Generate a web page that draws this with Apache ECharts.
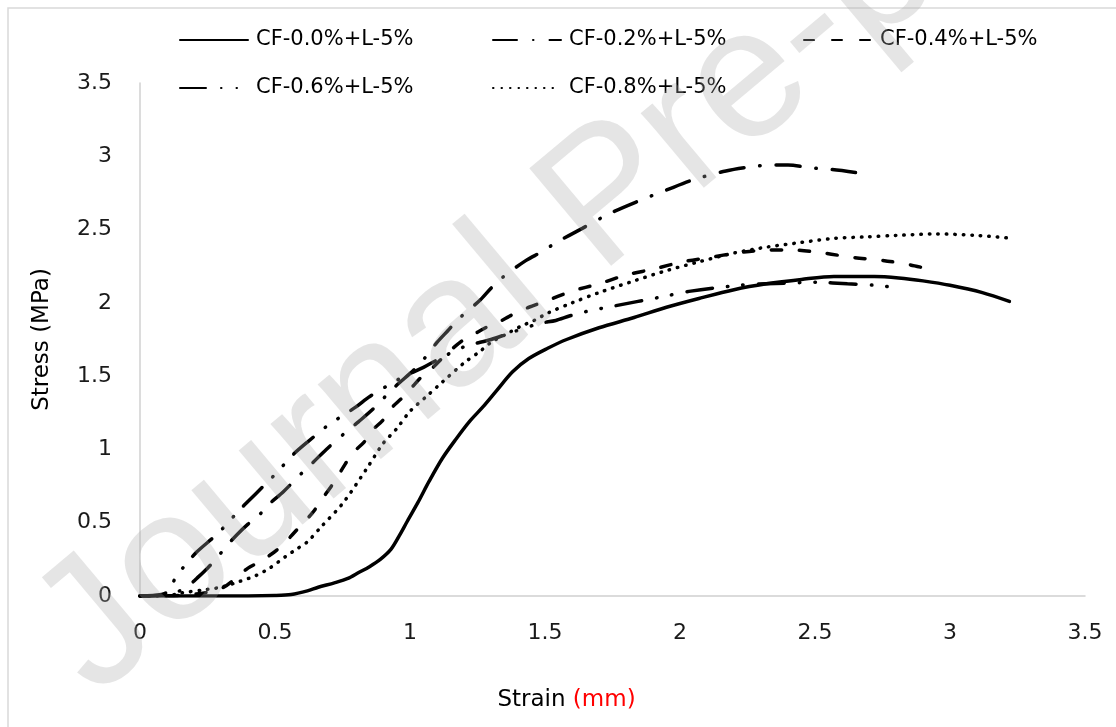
<!DOCTYPE html>
<html>
<head>
<meta charset="utf-8">
<script src="https://cdn.jsdelivr.net/npm/echarts@6/dist/echarts.min.js"></script>
<style>
html,body{margin:0;padding:0;background:#fff;}
#chart{width:1116px;height:727px;}
</style>
</head>
<body>
<div id="chart"></div>
<script>
// Series names
const seriesNames = ['CF-0.0%+L-5%', 'CF-0.2%+L-5%', 'CF-0.4%+L-5%', 'CF-0.6%+L-5%', 'CF-0.8%+L-5%'];

// [strain (mm), stress (MPa)] pairs
const cf00 = [[0,0],[0.2,0],[0.4,0],[0.5,0.003],[0.56,0.01],[0.62,0.035],[0.66,0.06],[0.72,0.09],[0.77,0.12],[0.81,0.16],[0.85,0.2],[0.89,0.25],[0.93,0.32],[0.96,0.41],[0.99,0.51],[1.03,0.64],[1.07,0.78],[1.12,0.94],[1.17,1.07],[1.22,1.19],[1.27,1.29],[1.32,1.40],[1.38,1.53],[1.44,1.62],[1.51,1.69],[1.58,1.75],[1.70,1.83],[1.83,1.90],[1.95,1.97],[2.07,2.03],[2.20,2.09],[2.32,2.13],[2.45,2.16],[2.57,2.18],[2.65,2.18],[2.72,2.18],[2.81,2.17],[2.90,2.15],[3.0,2.12],[3.12,2.07],[3.22,2.01]];
const cf02 = [[0,0],[0.08,0.005],[0.14,0.03],[0.18,0.07],[0.21,0.12],[0.25,0.19],[0.285,0.26],[0.32,0.34],[0.36,0.42],[0.40,0.49],[0.44,0.55],[0.48,0.63],[0.53,0.71],[0.60,0.84],[0.64,0.91],[0.69,1.0],[0.77,1.13],[0.81,1.19],[0.86,1.27],[0.94,1.42],[1.03,1.57],[1.10,1.73],[1.14,1.81],[1.18,1.89],[1.26,2.02],[1.30,2.10],[1.34,2.17],[1.43,2.29],[1.49,2.35],[1.54,2.41],[1.64,2.51],[1.74,2.61],[1.84,2.69],[1.95,2.77],[2.05,2.84],[2.17,2.90],[2.27,2.93],[2.33,2.94],[2.40,2.94],[2.49,2.92],[2.56,2.91],[2.65,2.89]];
const cf04 = [[0,0],[0.15,0.005],[0.25,0.025],[0.31,0.06],[0.36,0.13],[0.40,0.19],[0.44,0.23],[0.49,0.29],[0.53,0.35],[0.57,0.43],[0.60,0.49],[0.64,0.57],[0.67,0.65],[0.72,0.78],[0.76,0.90],[0.79,0.98],[0.83,1.05],[0.86,1.13],[0.90,1.20],[0.93,1.28],[0.97,1.35],[1.01,1.43],[1.04,1.49],[1.08,1.55],[1.14,1.66],[1.20,1.75],[1.25,1.80],[1.30,1.85],[1.34,1.88],[1.40,1.94],[1.44,1.97],[1.50,2.01],[1.60,2.08],[1.70,2.13],[1.80,2.19],[1.90,2.23],[2.01,2.28],[2.11,2.31],[2.21,2.34],[2.32,2.36],[2.42,2.36],[2.53,2.34],[2.64,2.31],[2.75,2.29],[2.85,2.26],[2.90,2.24]];
const cf06 = [[0,0],[0.08,0.01],[0.11,0.04],[0.13,0.12],[0.167,0.21],[0.21,0.30],[0.29,0.43],[0.37,0.59],[0.43,0.70],[0.49,0.81],[0.53,0.89],[0.57,0.97],[0.62,1.05],[0.70,1.17],[0.75,1.23],[0.80,1.29],[0.85,1.36],[0.94,1.46],[0.98,1.50],[1.05,1.56],[1.10,1.61],[1.20,1.70],[1.30,1.75],[1.38,1.80],[1.48,1.86],[1.54,1.88],[1.59,1.91],[1.65,1.94],[1.76,1.98],[1.93,2.04],[2.04,2.08],[2.22,2.12],[2.32,2.13],[2.51,2.14],[2.62,2.13],[2.72,2.12],[2.82,2.10]];
const cf08 = [[0,0],[0.1,0.0],[0.15,0.02],[0.25,0.045],[0.30,0.06],[0.37,0.10],[0.43,0.14],[0.48,0.19],[0.54,0.27],[0.58,0.32],[0.62,0.37],[0.67,0.47],[0.75,0.63],[0.84,0.87],[0.90,1.04],[0.95,1.14],[1.0,1.26],[1.06,1.36],[1.12,1.46],[1.20,1.59],[1.26,1.67],[1.30,1.73],[1.36,1.79],[1.41,1.84],[1.46,1.88],[1.51,1.93],[1.60,2.0],[1.70,2.07],[1.83,2.15],[1.95,2.22],[2.07,2.28],[2.20,2.34],[2.32,2.38],[2.44,2.41],[2.57,2.44],[2.69,2.45],[2.80,2.46],[2.95,2.47],[3.1,2.46],[3.23,2.44]];

const xTitle = 'Strain ';
const xTitleUnit = '(mm)';
const yTitle = 'Stress (MPa)';
const watermark = 'Journal Pre-proof';

const FONT = 'DejaVu Sans';
const dashPatterns = ['solid', [24, 16, 0.5, 16], [10, 18], [26, 15, 0.5, 15, 0.5, 15], [0.5, 8]];
const dataSets = [cf00, cf02, cf04, cf06, cf08];

const chart = echarts.init(document.getElementById('chart'), null, {renderer: 'canvas'});

const series = seriesNames.map((name, i) => ({
  name: name,
  type: 'line',
  data: dataSets[i],
  smooth: 0.3,
  symbol: 'none',
  showSymbol: false,
  lineStyle: {color: '#000', width: 3.5, type: dashPatterns[i], cap: 'round'},
  itemStyle: {color: '#000'},
  z: 2
}));

function legendAt(left, names) {
  return {
    data: names,
    orient: 'vertical',
    left: left,
    top: 28,
    padding: 0,
    itemWidth: 68,
    itemHeight: 14,
    itemGap: 24,
    itemStyle: {opacity: 0},
    textStyle: {fontFamily: FONT, fontSize: 21, color: '#000', lineHeight: 24, padding: [0, 0, 0, 3]}
  };
}

const option = {
  animation: false,
  backgroundColor: '#fff',
  legend: [
    legendAt(179, [seriesNames[0], seriesNames[3]]),
    legendAt(492, [seriesNames[1], seriesNames[4]]),
    legendAt(803, [seriesNames[2]])
  ],
  grid: {left: 140, right: 31, top: 83, bottom: 131, containLabel: false},
  xAxis: {
    type: 'value', min: 0, max: 3.5, interval: 0.5,
    name: '{a|' + xTitle + '}{b|' + xTitleUnit + '}',
    nameLocation: 'middle', nameGap: 93,
    nameTextStyle: {
      padding: [0, 92, 0, 0],
      rich: {
        a: {fontFamily: FONT, fontSize: 23, color: '#000'},
        b: {fontFamily: FONT, fontSize: 23, color: '#ff0000'}
      }
    },
    axisLine: {show: true, lineStyle: {color: '#d0d0d0', width: 1.5}},
    axisTick: {show: false},
    splitLine: {show: false},
    axisLabel: {fontFamily: FONT, fontSize: 22, color: '#1a1a1a', margin: 26}
  },
  yAxis: {
    type: 'value', min: 0, max: 3.5, interval: 0.5,
    name: yTitle, nameLocation: 'middle', nameGap: 86, nameRotate: 90,
    nameTextStyle: {fontFamily: FONT, fontSize: 23, color: '#000'},
    axisLine: {show: true, lineStyle: {color: '#d0d0d0', width: 1.5}},
    axisTick: {show: false},
    splitLine: {show: false},
    axisLabel: {fontFamily: FONT, fontSize: 22, color: '#1a1a1a', margin: 28}
  },
  graphic: [
    {
      type: 'rect', silent: true, z: -10,
      shape: {x: 8, y: 8, width: 1200, height: 800},
      style: {fill: 'none', stroke: '#d9d9d9', lineWidth: 1.5}
    },
    {
      type: 'text', silent: true, z: 100,
      x: 610, y: 200,
      rotation: 40 * Math.PI / 180,
      style: {
        text: watermark,
        font: '185px "Liberation Sans"',
        fill: 'rgba(170,170,170,0.3)',
        textAlign: 'center',
        textVerticalAlign: 'middle'
      }
    }
  ],
  series: series
};

chart.setOption(option);
</script>
</body>
</html>
